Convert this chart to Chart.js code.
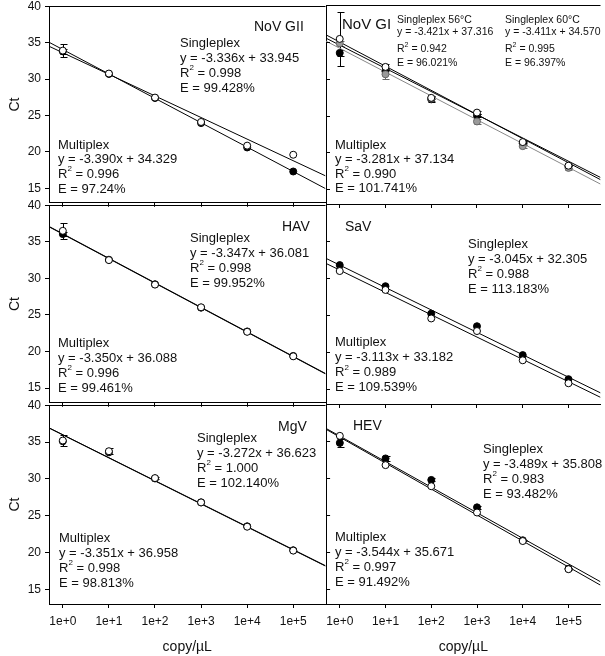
<!DOCTYPE html>
<html>
<head>
<meta charset="utf-8">
<script src="https://cdn.jsdelivr.net/npm/chart.js@4.4.1/dist/chart.umd.min.js"></script>
<style>
  body { margin: 0; background: #fff; }
  #wrap { position: relative; width: 605px; height: 656px; overflow: hidden; background: #fff; }
  #wrap canvas { position: absolute; }
</style>
</head>
<body>
<div id="wrap"></div>
<script>
// x is log10(copy/uL)
const copyLog = [0, 1, 2, 3, 4, 5];
const xTickLabels = ['1e+0', '1e+1', '1e+2', '1e+3', '1e+4', '1e+5'];
const yTicks = [15, 20, 25, 30, 35, 40];
const fitX = [-0.3, 5.7];

// NoV GII
const novGII_single = [33.9, 30.75, 27.45, 24.1, 20.85, 19.6];
const novGII_singleErr = [0.85, 0, 0, 0, 0, 0];
const novGII_multi = [33.8, 30.7, 27.4, 23.95, 20.6, 17.3];
const novGII_multiErr = [0.3, 0, 0, 0, 0, 0];
const novGII_singleFit = [34.5, 16.7];
const novGII_multiFit = [35.05, 14.95];

// NoV GI
const novGI_s56 = [35.4, 31.6, 27.4, 25.4, 21.4, 18.2];
const novGI_s56Err = [3.7, 0.35, 0.2, 0.2, 0.15, 0.1];
const novGI_s60 = [34.8, 30.6, 27.3, 24.2, 20.85, 17.9];
const novGI_s60Err = [0.3, 0.7, 0.3, 0.3, 0.25, 0.35];
const novGI_multi = [33.5, 31.0, 27.2, 25.0, 21.2, 18.1];
const novGI_multiErr = [0.4, 0.3, 0.35, 0.2, 0.2, 0.2];
const novGI_s56Fit = [35.95, 16.3];
const novGI_multiFit = [35.5, 16.6];
const novGI_s60Fit = [35.1, 15.7];

// HAV
const hav_single = [36.5, 32.5, 29.15, 26.05, 22.7, 19.35];
const hav_singleErr = [1.1, 0, 0, 0, 0, 0];
const hav_multi = [36.05, 32.55, 29.2, 26.0, 22.75, 19.4];
const hav_multiErr = [0.3, 0, 0, 0, 0, 0];
const hav_singleFit = [37.1, 17.0];
const hav_multiFit = [37.05, 16.95];

// SaV
const sav_single = [30.95, 28.4, 24.55, 22.85, 18.9, 15.8];
const sav_multi = [31.75, 28.9, 25.2, 23.5, 19.6, 16.35];
const sav_singleFit = [31.98, 13.9];
const sav_multiFit = [32.66, 14.5];

// MgV
const mgv_single = [35.2, 33.75, 30.1, 26.8, 23.5, 20.25];
const mgv_singleErr = [0.7, 0.43, 0.15, 0, 0, 0];
const mgv_multi = [35.1, 33.6, 30.05, 26.8, 23.55, 20.3];
const mgv_singleFit = [36.93, 18.2];
const mgv_multiFit = [36.9, 18.15];

// HEV
const hev_single = [35.7, 31.75, 28.9, 25.35, 21.5, 17.7];
const hev_multi = [34.75, 32.65, 29.75, 26.05, 21.6, 17.75];
const hev_multiErr = [0.5, 0.3, 0.2, 0.2, 0.1, 0.1];
const hev_singleFit = [36.7, 16.0];
const hev_multiFit = [36.58, 15.54];

// equation text
const novGII_singleText = ['Singleplex', 'y = -3.336x + 33.945', 'R2 = 0.998', 'E = 99.428%'];
const novGII_multiText = ['Multiplex', 'y = -3.390x + 34.329', 'R2 = 0.996', 'E = 97.24%'];
const novGI_s56Text = ['Singleplex 56°C', 'y = -3.421x + 37.316', 'R2 = 0.942', 'E = 96.021%'];
const novGI_s60Text = ['Singleplex 60°C', 'y = -3.411x + 34.570', 'R2 = 0.995', 'E = 96.397%'];
const novGI_multiText = ['Multiplex', 'y = -3.281x + 37.134', 'R2 = 0.990', 'E = 101.741%'];
const hav_singleText = ['Singleplex', 'y = -3.347x + 36.081', 'R2 = 0.998', 'E = 99.952%'];
const hav_multiText = ['Multiplex', 'y = -3.350x + 36.088', 'R2 = 0.996', 'E = 99.461%'];
const sav_singleText = ['Singleplex', 'y = -3.045x + 32.305', 'R2 = 0.988', 'E = 113.183%'];
const sav_multiText = ['Multiplex', 'y = -3.113x + 33.182', 'R2 = 0.989', 'E = 109.539%'];
const mgv_singleText = ['Singleplex', 'y = -3.272x + 36.623', 'R2 = 1.000', 'E = 102.140%'];
const mgv_multiText = ['Multiplex', 'y = -3.351x + 36.958', 'R2 = 0.998', 'E = 98.813%'];
const hev_singleText = ['Singleplex', 'y = -3.489x + 35.808', 'R2 = 0.983', 'E = 93.482%'];
const hev_multiText = ['Multiplex', 'y = -3.544x + 35.671', 'R2 = 0.997', 'E = 91.492%'];

const FONT = '"Liberation Sans", Arial, sans-serif';
Chart.defaults.font.family = FONT;
Chart.defaults.color = '#000';

const rowTop = [5, 204, 404];
const rowBottom = [204, 404, 604];

const styles = {
  open: { backgroundColor: '#fff', borderColor: '#000', order: 1 },
  gray: { backgroundColor: '#9a9a9a', borderColor: '#666', order: 2 },
  filled: { backgroundColor: '#000', borderColor: '#000', order: 3 }
};

const panels = [
  { row: 0, col: 0,
    series: [[novGII_multi, novGII_multiErr, 'filled'], [novGII_single, novGII_singleErr, 'open']],
    fits: [[novGII_multiFit, '#000'], [novGII_singleFit, '#000']],
    texts: [
      { x: 254, y: 27, lines: ['NoV GII'], size: 14 },
      { x: 180, y: 43, lines: novGII_singleText },
      { x: 58, y: 145, dy: 14.7, lines: novGII_multiText }
    ] },
  { row: 0, col: 1,
    series: [[novGI_multi, novGI_multiErr, 'filled'], [novGI_s60, novGI_s60Err, 'gray'], [novGI_s56, novGI_s56Err, 'open']],
    fits: [[novGI_s56Fit, '#000'], [novGI_multiFit, '#000'], [novGI_s60Fit, '#888']],
    texts: [
      { x: 342, y: 25, lines: ['NoV GI'], size: 15 },
      { x: 397, ys: [20, 32.5, 49, 63], lines: novGI_s56Text, size: 10.5 },
      { x: 505, ys: [20, 32.5, 49, 63], lines: novGI_s60Text, size: 10.5 },
      { x: 335, y: 145, dy: 14.5, lines: novGI_multiText }
    ] },
  { row: 1, col: 0,
    series: [[hav_multi, hav_multiErr, 'filled'], [hav_single, hav_singleErr, 'open']],
    fits: [[hav_multiFit, '#000'], [hav_singleFit, '#000']],
    texts: [
      { x: 282, y: 227, lines: ['HAV'], size: 14 },
      { x: 190, y: 238, lines: hav_singleText },
      { x: 58, y: 343, lines: hav_multiText }
    ] },
  { row: 1, col: 1,
    series: [[sav_multi, null, 'filled'], [sav_single, null, 'open']],
    fits: [[sav_multiFit, '#000'], [sav_singleFit, '#000']],
    texts: [
      { x: 345, y: 227, lines: ['SaV'], size: 14 },
      { x: 468, y: 244, lines: sav_singleText },
      { x: 335, y: 342.5, lines: sav_multiText }
    ] },
  { row: 2, col: 0,
    series: [[mgv_multi, null, 'filled'], [mgv_single, mgv_singleErr, 'open']],
    fits: [[mgv_multiFit, '#000'], [mgv_singleFit, '#000']],
    texts: [
      { x: 278, y: 427, lines: ['MgV'], size: 14 },
      { x: 197, y: 438, lines: mgv_singleText },
      { x: 59, y: 538, lines: mgv_multiText }
    ] },
  { row: 2, col: 1,
    series: [[hev_multi, hev_multiErr, 'filled'], [hev_single, null, 'open']],
    fits: [[hev_multiFit, '#000'], [hev_singleFit, '#000']],
    texts: [
      { x: 353, y: 426, lines: ['HEV'], size: 14 },
      { x: 483, y: 449, lines: hev_singleText },
      { x: 335, y: 537, lines: hev_multiText }
    ] }
];

function drawTextLine(ctx, s, x, y, size) {
  ctx.font = size + 'px ' + FONT;
  if (s.indexOf('R2') === 0) {
    ctx.fillText('R', x, y);
    const w = ctx.measureText('R').width;
    const small = Math.round(size * 0.65);
    ctx.font = small + 'px ' + FONT;
    ctx.fillText('2', x + w, y - size * 0.4);
    const w2 = ctx.measureText('2').width;
    ctx.font = size + 'px ' + FONT;
    ctx.fillText(s.slice(2), x + w + w2, y);
  } else {
    ctx.fillText(s, x, y);
  }
}

const errorBars = {
  id: 'errorBars',
  beforeDatasetsDraw(chart) {
    const ctx = chart.ctx, xs = chart.scales.x, ys = chart.scales.y;
    ctx.save();
    ctx.lineWidth = 1;
    chart.data.datasets.forEach(ds => {
      if (!ds.errors) return;
      ctx.strokeStyle = ds.borderColor;
      ds.data.forEach((pt, i) => {
        const e = ds.errors[i];
        if (!e) return;
        const px = Math.round(xs.getPixelForValue(pt.x)) + 0.5;
        const y1 = Math.round(ys.getPixelForValue(pt.y + e)) + 0.5;
        const y2 = Math.round(ys.getPixelForValue(pt.y - e)) + 0.5;
        ctx.beginPath();
        ctx.moveTo(px, y1); ctx.lineTo(px, y2);
        ctx.moveTo(px - 3, y1); ctx.lineTo(px + 4, y1);
        ctx.moveTo(px - 3, y2); ctx.lineTo(px + 4, y2);
        ctx.stroke();
      });
    });
    ctx.restore();
  }
};

function makeDecor(p, offX, offY) {
  return {
    id: 'decor',
    afterDraw(chart) {
      const ctx = chart.ctx, a = chart.chartArea;
      ctx.save();
      ctx.strokeStyle = '#000';
      ctx.lineWidth = 1;
      ctx.beginPath();
      const ty = Math.round(a.top) + 0.5;
      ctx.moveTo(a.left, ty); ctx.lineTo(a.right, ty);
      if (p.col === 1) {
        const ys = chart.scales.y;
        yTicks.forEach(v => {
          const py = Math.round(ys.getPixelForValue(v)) + 0.5;
          ctx.moveTo(a.left, py); ctx.lineTo(a.left + 4, py);
        });
      }
      ctx.stroke();
      ctx.fillStyle = '#111';
      ctx.textBaseline = 'middle';
      ctx.textAlign = 'left';
      p.texts.forEach(t => {
        t.lines.forEach((line, i) => {
          const y = t.ys ? t.ys[i] : t.y + i * (t.dy || 15);
          drawTextLine(ctx, line, t.x - offX, y - offY, t.size || 13);
        });
      });
      ctx.restore();
    }
  };
}

const wrap = document.getElementById('wrap');

panels.forEach(p => {
  const isLeft = p.col === 0;
  const isBottom = p.row === 2;
  const top = rowTop[p.row], bottom = rowBottom[p.row];
  const left = isLeft ? 0 : 320;
  const w = isLeft ? 330 : 285;
  const xAxisH = isBottom ? 52 : 10;
  const cTop = top - 10;
  const h = 10 + (bottom - top) + xAxisH;

  const c = document.createElement('canvas');
  c.width = w; c.height = h;
  c.style.left = left + 'px'; c.style.top = cTop + 'px';
  c.style.width = w + 'px'; c.style.height = h + 'px';
  wrap.appendChild(c);

  const datasets = [];
  p.fits.forEach(f => {
    datasets.push({
      data: fitX.map((x, i) => ({ x: x, y: f[0][i] })),
      showLine: true, pointRadius: 0, borderColor: f[1], borderWidth: 1, order: 10
    });
  });
  p.series.forEach(s => {
    const st = styles[s[2]];
    datasets.push({
      data: copyLog.map((x, i) => ({ x: x, y: s[0][i] })),
      errors: s[1],
      showLine: false, pointRadius: 3.5, pointHoverRadius: 3.5, borderWidth: 1,
      backgroundColor: st.backgroundColor, borderColor: st.borderColor, order: st.order
    });
  });

  new Chart(c, {
    type: 'scatter',
    data: { datasets: datasets },
    plugins: [errorBars, makeDecor(p, left, cTop)],
    options: {
      responsive: false,
      animation: false,
      devicePixelRatio: 1,
      events: [],
      layout: { padding: { left: isLeft ? 0 : 6, right: isLeft ? 4 : 1, top: 10, bottom: 0 } },
      plugins: { legend: { display: false }, tooltip: { enabled: false } },
      scales: {
        x: {
          type: 'linear', min: -0.3, max: 5.7,
          afterBuildTicks: s => { s.ticks = copyLog.map(v => ({ value: v })); },
          afterFit: s => { s.height = xAxisH; },
          ticks: {
            display: isBottom, padding: 6, color: '#111', font: { size: 12 },
            callback: (v, i) => xTickLabels[i]
          },
          grid: { display: true, drawOnChartArea: false, drawTicks: true, tickLength: 4, color: '#000' },
          border: { display: true, color: '#000', width: 1 },
          title: { display: isBottom, text: 'copy/µL', color: '#111', font: { size: 14 }, padding: { top: 0, bottom: 0 } }
        },
        y: {
          type: 'linear', min: 13, max: 40,
          afterBuildTicks: s => { s.ticks = yTicks.map(v => ({ value: v })); },
          afterFit: s => { s.width = isLeft ? 49 : 0; },
          ticks: { display: isLeft, padding: 4, color: '#111', font: { size: 12 } },
          grid: { display: true, drawOnChartArea: false, drawTicks: isLeft, tickLength: 4, color: '#000' },
          border: { display: true, color: '#000', width: 1 },
          title: { display: isLeft, text: 'Ct', color: '#111', font: { size: 14 }, padding: { top: 7, bottom: 0 } }
        }
      }
    }
  });
});
</script>
</body>
</html>
